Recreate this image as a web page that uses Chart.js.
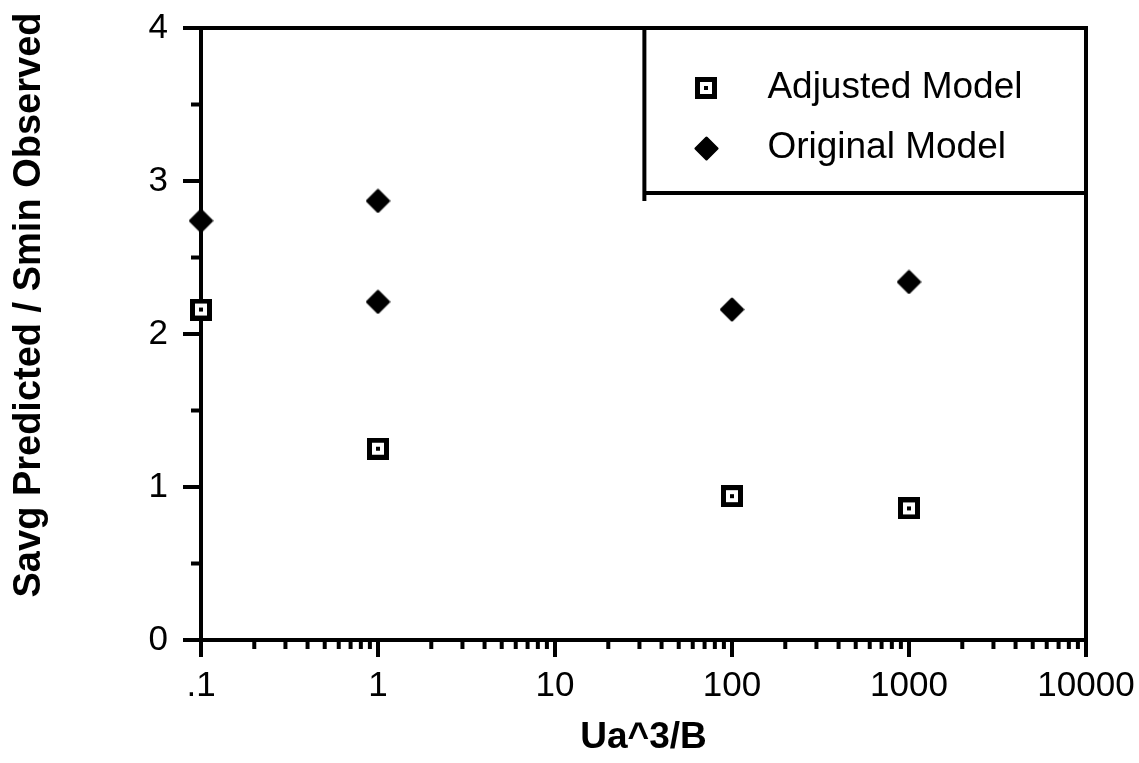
<!DOCTYPE html>
<html>
<head>
<meta charset="utf-8">
<script src="https://cdn.jsdelivr.net/npm/chart.js@4.4.1/dist/chart.umd.min.js"></script>
<style>
  html, body { margin: 0; padding: 0; background: #fff; }
  canvas { display: block; }
</style>
</head>
<body>
<canvas id="chart" width="1139" height="763"></canvas>
<script>
const FONT = '"Liberation Sans", Arial, Helvetica, sans-serif';

// data
const seriesNames = ["Adjusted Model", "Original Model"];
const xAdjusted = [0.1, 1, 100, 1000];
const yAdjusted = [2.16, 1.25, 0.94, 0.86];
const xOriginal = [0.1, 1, 1, 100, 1000];
const yOriginal = [2.74, 2.87, 2.21, 2.16, 2.34];

// axes
const xDecades = [0.1, 1, 10, 100, 1000, 10000];
const xDecadeLabels = [".1", "1", "10", "100", "1000", "10000"];
const yTicks = [0, 0.5, 1, 1.5, 2, 2.5, 3, 3.5, 4];
const yTickLabels = ["0", "", "1", "", "2", "", "3", "", "4"];
const xTitle = "Ua^3/B";
const yTitle = "Savg Predicted / Smin Observed";

function squareMarker(s) {
  const c = document.createElement("canvas");
  c.width = c.height = s;
  const g = c.getContext("2d");
  g.fillStyle = "#000";
  g.fillRect(0, 0, s, s);
  const b = Math.round(s * 0.23);
  g.fillStyle = "#fff";
  g.fillRect(b, b, s - 2 * b, s - 2 * b);
  const d = Math.max(3, Math.round(s * 0.18));
  g.fillStyle = "#000";
  g.fillRect((s - d) / 2, (s - d) / 2, d, d);
  return c;
}

function diamondMarker(s) {
  const c = document.createElement("canvas");
  c.width = c.height = s;
  const g = c.getContext("2d");
  const h = s / 2, r = h - 2;
  g.beginPath();
  g.moveTo(h, h - r);
  g.lineTo(h + r, h);
  g.lineTo(h, h + r);
  g.lineTo(h - r, h);
  g.closePath();
  g.fillStyle = "#000";
  g.strokeStyle = "#000";
  g.lineJoin = "round";
  g.lineWidth = 3;
  g.fill();
  g.stroke();
  return c;
}

const toPoints = (xs, ys) => xs.map((x, i) => ({ x, y: ys[i] }));

// frame, ticks (major long, minor short) - drawn under the markers
const axisFrame = {
  id: "axisFrame",
  beforeDatasetsDraw(chart) {
    const { ctx, chartArea: a, scales: { x, y } } = chart;
    ctx.save();
    ctx.strokeStyle = "#000";
    ctx.lineWidth = 4;
    ctx.strokeRect(a.left, a.top, a.right - a.left, a.bottom - a.top);
    ctx.beginPath();
    x.ticks.forEach(t => {
      const px = x.getPixelForValue(t.value);
      ctx.moveTo(px, a.bottom);
      ctx.lineTo(px, a.bottom + (t.major ? 17 : 9));
    });
    y.ticks.forEach(t => {
      const py = y.getPixelForValue(t.value);
      ctx.moveTo(a.left, py);
      ctx.lineTo(a.left - (t.value % 1 === 0 ? 18 : 10), py);
    });
    ctx.stroke();

    // y axis title, set a little above the middle as in the original
    ctx.font = `bold 38px ${FONT}`;
    ctx.fillStyle = "#000";
    ctx.textAlign = "center";
    ctx.textBaseline = "middle";
    ctx.translate(30, a.top + (a.bottom - a.top) * 0.4526);
    ctx.rotate(-Math.PI / 2);
    ctx.fillText(yTitle, 0, 0);
    ctx.restore();
  }
};

// boxed legend in the top right corner
const boxLegend = {
  id: "boxLegend",
  afterDraw(chart) {
    const { ctx, chartArea: a } = chart;
    const left = a.left + (a.right - a.left) * 0.501;
    const bottom = a.top + 165;
    ctx.save();
    ctx.strokeStyle = "#000";
    ctx.lineWidth = 4;
    ctx.beginPath();
    ctx.moveTo(left, a.top);
    ctx.lineTo(left, bottom + 8);
    ctx.moveTo(left, bottom);
    ctx.lineTo(a.right, bottom);
    ctx.stroke();
    ctx.font = `37px ${FONT}`;
    ctx.textBaseline = "middle";
    ctx.fillStyle = "#000";
    chart.data.datasets.forEach((ds, i) => {
      const yy = a.top + 60 + i * 60;
      const img = ds.pointStyle;
      ctx.drawImage(img, Math.round(left + 62 - img.width / 2), Math.round(yy - img.height / 2));
      ctx.fillText(ds.label, left + 123, yy);
    });
    ctx.restore();
  }
};

new Chart(document.getElementById("chart"), {
  type: "scatter",
  data: {
    datasets: [
      {
        label: seriesNames[0],
        data: toPoints(xAdjusted, yAdjusted),
        pointStyle: squareMarker(22),
        clip: false,
      },
      {
        label: seriesNames[1],
        data: toPoints(xOriginal, yOriginal),
        pointStyle: diamondMarker(25),
        clip: false,
      },
    ],
  },
  options: {
    responsive: false,
    animation: false,
    devicePixelRatio: 1,
    layout: { padding: { top: 28, right: 53, left: 0, bottom: 0 } },
    plugins: {
      legend: { display: false },
      tooltip: { enabled: false },
    },
    scales: {
      x: {
        type: "logarithmic",
        min: 0.1,
        max: 10000,
        border: { display: false },
        grid: { drawOnChartArea: false, drawTicks: true, tickLength: 17, tickColor: "transparent" },
        afterBuildTicks(scale) {
          const ticks = [];
          xDecades.forEach((d, i) => {
            ticks.push({ value: d, major: true });
            if (i < xDecades.length - 1) {
              for (let m = 2; m <= 9; m++) ticks.push({ value: d * m, major: false });
            }
          });
          scale.ticks = ticks;
        },
        afterFit(scale) {
          scale.height = 123;
          scale.paddingLeft = 0;
          scale.paddingRight = 0;
        },
        ticks: {
          autoSkip: false,
          maxRotation: 0,
          padding: 8,
          color: "#000",
          font: { family: FONT, size: 35 },
          callback(value) {
            const i = xDecades.findIndex(d => Math.abs(d - value) < 1e-9);
            return i >= 0 ? xDecadeLabels[i] : "";
          },
        },
        title: {
          display: true,
          text: xTitle,
          color: "#000",
          font: { family: FONT, size: 37, weight: "bold" },
          padding: { top: 0, bottom: 3 },
        },
      },
      y: {
        type: "linear",
        min: 0,
        max: 4,
        border: { display: false },
        grid: { drawOnChartArea: false, drawTicks: true, tickLength: 18, tickColor: "transparent" },
        afterBuildTicks(scale) {
          scale.ticks = yTicks.map(v => ({ value: v }));
        },
        afterFit(scale) {
          scale.width = 201;
          scale.paddingTop = 0;
          scale.paddingBottom = 0;
        },
        ticks: {
          autoSkip: false,
          padding: 15,
          color: "#000",
          font: { family: FONT, size: 35 },
          callback: (value, index) => yTickLabels[index],
        },
        title: { display: false },
      },
    },
  },
  plugins: [axisFrame, boxLegend],
});
</script>
</body>
</html>
